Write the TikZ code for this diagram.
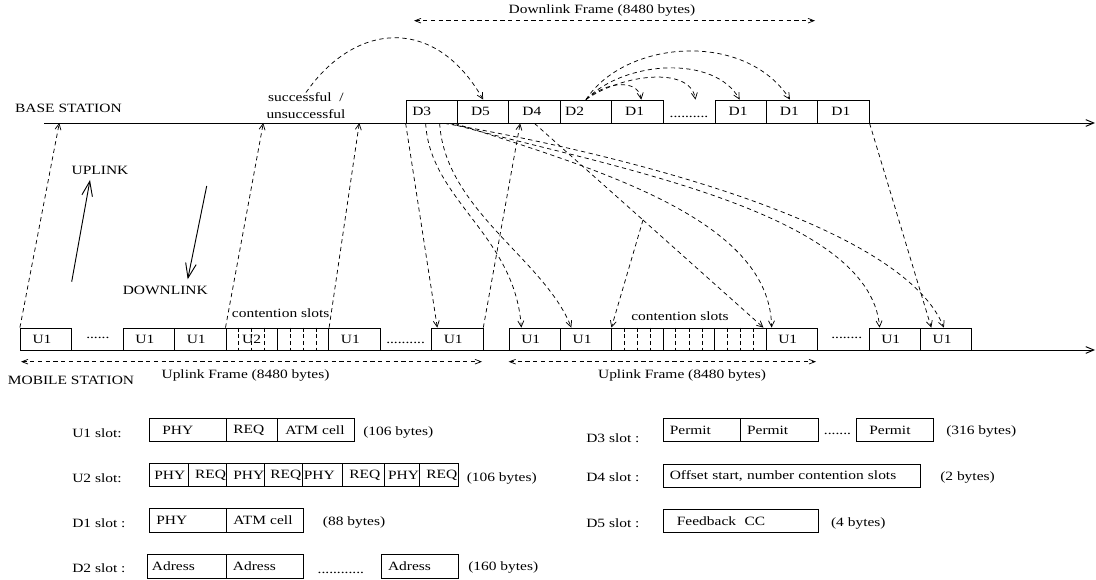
\documentclass[tikz,border=0pt]{standalone}
\usepackage{fontspec}
\setmainfont{Liberation Serif}[FakeStretch=1.22]
\usetikzlibrary{arrows.meta,calc}
\begin{document}
\begin{tikzpicture}[x=0.75pt,y=-0.75pt,
  every node/.style={font=\fontsize{9.5}{12.3}\selectfont, inner sep=0pt},
  txt/.style={anchor=west},
  btxt/.style={anchor=base west},
  slotb/.style={draw, line width=0.6pt, minimum width=38.55pt, minimum height=17.25pt},
  slotm/.style={draw, line width=0.6pt, minimum width=38.55pt, minimum height=16.5pt},
  lc/.style={draw, line width=0.6pt, anchor=west, align=left, minimum height=17.5pt},
  axis/.style={line width=0.7pt, -{Straight Barb[length=6pt,width=5pt]}},
  dl/.style={line width=0.55pt, dash pattern=on 3.2pt off 2.6pt},
  dar/.style={dl, -{Straight Barb[length=4.5pt,width=4.5pt]}},
  dbar/.style={dl, {Straight Barb[length=4.5pt,width=3.5pt]}-{Straight Barb[length=4.5pt,width=3.5pt]}},
  bigar/.style={line width=0.7pt, -{Straight Barb[length=11pt,width=8pt]}},
]
\useasboundingbox (0,0) rectangle (1096,580);

% axis lines
\coordinate (bs0) at (44,123);
\coordinate (bs1) at (1095,123);
\coordinate (ms0) at (20,350);
\coordinate (ms1) at (1095,350);
\draw[axis] (bs0) -- (bs1);
\draw[axis] (ms0) -- (ms1);

% base station slots
\node[slotb] (d3) at (431.75,111.5) {D3\kern15pt};
\node[slotb] (d5) at (483.15,111.5) {D5\kern4pt};
\node[slotb] (d4) at (534.55,111.5) {D4\kern4pt};
\node[slotb] (d2) at (585.95,111.5) {D2\kern17pt};
\node[slotb] (d1a) at (637.35,111.5) {D1\kern4pt};
\node[btxt] (bdots) at (669.4,118) {..........};
\node[slotb] (d1b) at (740.7,111.5) {D1\kern4pt};
\node[slotb] (d1c) at (792.1,111.5) {D1\kern4pt};
\node[slotb] (d1d) at (843.5,111.5) {D1\kern4pt};

% mobile station slots
\node[slotm] (u1a) at (46,339) {U1\kern6pt};
\node[btxt] (mdots1) at (86,339) {......};
\node[slotm] (u1b) at (148.8,339) {U1\kern6pt};
\node[slotm] (u1c) at (200.2,339) {U1\kern6pt};
\node[slotm] (cs1) at (251.6,339) {U2};
\node[slotm] (cs2) at (303,339) {};
\node[slotm] (u1d) at (354.4,339) {U1\kern6pt};
\node[btxt] (mdots2) at (386,343.5) {..........};
\node[slotm] (u1e) at (457.2,339) {U1\kern6pt};
\node[slotm] (u1f) at (534.7,339) {U1\kern6pt};
\node[slotm] (u1g) at (586.1,339) {U1\kern6pt};
\node[slotm] (cs3) at (637.5,339) {};
\node[slotm] (cs4) at (688.9,339) {};
\node[slotm] (cs5) at (740.3,339) {};
\node[slotm] (u1h) at (791.7,339) {U1\kern6pt};
\node[btxt] (mdots3) at (831,339) {........};
\node[slotm] (u1i) at (894.7,339) {U1\kern6pt};
\node[slotm] (u1j) at (946.1,339) {U1\kern6pt};

\foreach \c in {cs1,cs2,cs3,cs4,cs5}{
  \foreach \f in {0.25,0.5,0.75}{
    \draw[line width=0.55pt, dash pattern=on 3pt off 2pt]
      ($(\c.north west)!\f!(\c.north east)$) -- ($(\c.south west)!\f!(\c.south east)$);
  }
}

% labels
\node (bslab) at (68.4,108) {BASE STATION};
\node (mslab) at (71,380) {MOBILE STATION};
\node[align=center] (succ) at (306,105.5) {successful\ \ /\\unsuccessful};
\node (uplab) at (100,170) {UPLINK};
\node (dnlab) at (165.3,290) {DOWNLINK};
\node (cslab1) at (280.7,313.3) {contention slots};
\node (cslab2) at (680,316) {contention slots};
\node (ufl1) at (245.5,375.7) {Uplink Frame (8480 bytes)};
\node (ufl2) at (682,375.7) {Uplink Frame (8480 bytes)};
\node (dfl) at (602,10.7) {Downlink Frame (8480 bytes)};

% frame arrows
\coordinate (df0) at (414,20.7); \coordinate (df1) at (815,20.7);
\draw[dbar] (df0) -- (df1);
\coordinate (uf0) at (21,361.7); \coordinate (uf1) at (482,361.7);
\coordinate (uf2) at (508.6,361.7); \coordinate (uf3) at (816,361.7);
\draw[dbar] (uf0) -- (uf1);
\draw[dbar] (uf2) -- (uf3);

% uplink / downlink arrows
\coordinate (upa) at (71.7,281.7); \coordinate (upb) at (90,180);
\coordinate (dna) at (206.7,186); \coordinate (dnb) at (187.7,279.3);
\draw[bigar] (upa) -- (upb);
\draw[bigar] (dna) -- (dnb);

% uplink transmissions (mobile -> base)
\coordinate (b1) at (59.3,123);
\coordinate (b2) at (263.3,123);
\coordinate (b3) at (359.3,123);
\draw[dar] (u1a.north west) -- (b1);
\draw[dar] (cs1.north west) -- (b2);
\draw[dar] (cs2.north east) -- (b3);
\draw[dar] (u1e.north east) -- ($(d4.south west)+(11.7,0)$);

% feedback arc
\draw[dar] (succ.north) .. controls (355,22) and (435,15) .. (d5.north);

% D2 address arcs
\draw[dar] (d2.north) .. controls (605,82) and (638,78) .. ($(d1a.north west)+(30,0)$);
\draw[dar] (d2.north) .. controls (620,75) and (690,65) .. ($(d1a.north east)+(32,0)$);
\draw[dar] (d2.north) .. controls (625,60) and (715,55) .. ($(d1b.north west)+(25,0)$);
\draw[dar] (d2.north) .. controls (625,40) and (745,30) .. ($(d1c.north west)+(24,0)$);

% D3 permits (base -> mobile)
\draw[dar] (d3.south west) -- ($(u1e.north west)+(6.2,0)$);
\draw[dar] ($(d3.south west)+(20,0)$) .. controls (430,200) and (515,235) .. ($(u1f.north west)+(12.7,0)$);
\draw[dar] ($(d3.south west)+(34,0)$) .. controls (445,210) and (545,260) .. ($(u1g.north west)+(11.3,0)$);
\draw[dar] ($(d3.south west)+(49,0)$) .. controls (600,170) and (770,220) .. ($(u1h.north west)+(6,0)$);
\draw[dar] ($(d3.south west)+(44,0)$) .. controls (600,165) and (870,210) .. ($(u1i.north west)+(11,0)$);
\draw[dar] ($(d3.south west)+(39,0)$) .. controls (600,150) and (900,220) .. ($(u1j.north west)+(23.9,0)$);

% D4 contention window
\coordinate (apex) at (643,220);
\draw[dl] ($(d4.south west)+(26,0)$) -- (apex);
\draw[dar] (apex) -- (cs3.north west);
\draw[dar] (apex) -- ($(cs5.north east)+(-3,0)$);

% D1 -> U1
\draw[dar] (d1d.south east) -- ($(u1j.north west)+(11.3,0)$);

% ---------- legend ----------
\node[txt] (lu1) at (72,432.7) {U1 slot:};
\node[lc, text width=57.4pt] (lu1a) at (149,430) {\hspace*{9.75pt}PHY};
\node[lc, text width=38.6pt] (lu1b) at (225.5,430) {\hspace*{5.6pt}REQ};
\node[lc, text width=58pt] (lu1c) at (277,430) {\hspace*{6pt}ATM cell};
\node[txt] (lu1s) at (363,432.7) {(106 bytes)};

\node[txt] (lu2) at (72,478.3) {U2 slot:};
\node[lc, text width=29pt] (lu2a) at (149,475) {\hspace*{3.75pt}PHY};
\node[lc, text width=28.35pt] (lu2b) at (187.7,475) {\hspace*{5.25pt}REQ};
\node[lc, text width=28.9pt] (lu2c) at (225.5,475) {\hspace*{5.6pt}PHY};
\node[lc, text width=28.8pt] (lu2d) at (264,475) {\hspace*{4.5pt}REQ};
\node[lc, text width=29.7pt] (lu2e) at (302.4,475) {\hspace*{0.75pt}PHY};
\node[lc, text width=31.5pt] (lu2f) at (342,475) {\hspace*{5.25pt}REQ};
\node[lc, text width=26.25pt] (lu2g) at (384,475) {\hspace*{2.7pt}PHY};
\node[lc, text width=29pt] (lu2h) at (419,475) {\hspace*{5.25pt}REQ};
\node[txt] (lu2s) at (466.5,478.3) {(106 bytes)};

\node[txt] (ld1) at (72,522.7) {D1 slot :};
\node[lc, text width=57.9pt, minimum height=18.3pt] (ld1a) at (149,520.5) {\hspace*{5.25pt}PHY};
\node[lc, text width=57.9pt, minimum height=18.3pt] (ld1b) at (226.2,520.5) {\hspace*{5.1pt}ATM cell};
\node[txt] (ld1s) at (322.7,522.7) {(88 bytes)};

\node[txt] (ld2) at (72,567.7) {D2 slot :};
\node[lc, text width=59.2pt, minimum height=18pt] (ld2a) at (147.3,566.3) {\hspace*{3.15pt}Adress};
\node[lc, text width=57.9pt, minimum height=18pt] (ld2b) at (226.2,566.3) {\hspace*{4.7pt}Adress};
\node[btxt] (ld2d) at (317.4,573.5) {............};
\node[lc, text width=57.8pt, minimum height=18pt] (ld2c) at (380.6,566.3) {\hspace*{5.25pt}Adress};
\node[txt] (ld2s) at (468,567.7) {(160 bytes)};

\node[txt] (ld3) at (586,438.3) {D3 slot :};
\node[lc, text width=58.05pt] (ld3a) at (663,430) {\hspace*{4.8pt}Permit};
\node[lc, text width=58pt] (ld3b) at (740.4,430) {\hspace*{4.7pt}Permit};
\node[btxt] (ld3d) at (823.7,434.5) {.......};
\node[lc, text width=58.05pt] (ld3c) at (855.6,430) {\hspace*{10pt}Permit};
\node[txt] (ld3s) at (946,431.7) {(316 bytes)};

\node[txt] (ld4) at (586,477.3) {D4 slot :};
\node[lc, text width=193.1pt, minimum height=17.25pt] (ld4a) at (663,475.8) {\hspace*{4.8pt}Offset start, number contention slots};
\node[txt] (ld4s) at (940,477.3) {(2 bytes)};

\node[txt] (ld5) at (586,523.3) {D5 slot :};
\node[lc, text width=116pt] (ld5a) at (663,521) {\hspace*{10.1pt}Feedback\ \ CC};
\node[txt] (ld5s) at (830.8,523.3) {(4 bytes)};
\end{tikzpicture}
\end{document}
